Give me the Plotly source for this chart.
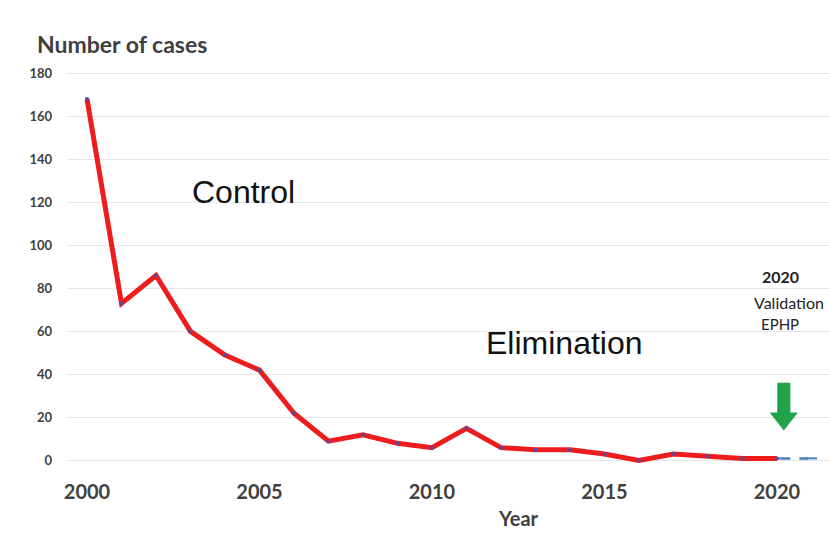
import plotly.graph_objects as go

# Reported cases per year
years = [2000, 2001, 2002, 2003, 2004, 2005, 2006, 2007, 2008, 2009, 2010,
         2011, 2012, 2013, 2014, 2015, 2016, 2017, 2018, 2019, 2020]
cases = [168, 73, 86, 60, 49, 42, 22, 9, 12, 8, 6,
         15, 6, 5, 5, 3, 0, 3, 2, 1, 1]

# Projected trend after validation
proj_years = [2017, 2018, 2019, 2020, 2021]
proj_cases = [3, 2, 1, 1, 1]

x_ticks = [2000, 2005, 2010, 2015, 2020]
y_ticks = [0, 20, 40, 60, 80, 100, 120, 140, 160, 180]

LABEL = "#404040"
FONT = "Lato"

fig = go.Figure()

fig.add_trace(go.Scatter(
    x=proj_years, y=proj_cases, mode="lines+markers",
    line=dict(color="#4a7ebb", width=2.5, dash="dash"),
    marker=dict(symbol="line-ew", size=8, line=dict(color="#4a7ebb", width=2)),
    showlegend=False, hoverinfo="skip",
))

fig.add_trace(go.Scatter(
    x=years, y=cases, mode="lines+markers",
    line=dict(color="#ee1c1c", width=5),
    marker=dict(size=4, color="#5b4a9a"),
    showlegend=False,
))

# Green arrow pointing at the validation year
ax, shaft, head = 2020.2, 0.19, 0.41
top, base, tip = 36.2, 22.3, 14.0
fig.add_shape(
    type="path", xref="x", yref="y",
    path=(f"M {ax - shaft} {top} L {ax + shaft} {top} L {ax + shaft} {base} "
          f"L {ax + head} {base} L {ax} {tip} L {ax - head} {base} "
          f"L {ax - shaft} {base} Z"),
    fillcolor="#22a34a", line=dict(width=0),
)

annotations = [
    dict(text="<b>Number of cases</b>", xref="paper", yref="paper",
         x=-0.042, y=1.067, xanchor="left", yanchor="middle",
         font=dict(family=FONT, size=23, color=LABEL), showarrow=False),
    dict(text="<b>Year</b>", xref="x", yref="paper",
         x=2012.5, y=-0.13, xanchor="center", yanchor="middle",
         font=dict(family=FONT, size=20, color=LABEL), showarrow=False),
    dict(text="Control", xref="x", yref="y", x=2003.0, y=125,
         xanchor="left", yanchor="middle",
         font=dict(family="Liberation Sans", size=32, color="#111111"),
         showarrow=False),
    dict(text="Elimination", xref="x", yref="y", x=2011.5, y=54.5,
         xanchor="left", yanchor="middle",
         font=dict(family="Liberation Sans", size=32, color="#111111"),
         showarrow=False),
    dict(text="<b>2020</b>", xref="x", yref="y", x=2020.1, y=85.5,
         xanchor="center", yanchor="middle",
         font=dict(family=FONT, size=16, color="#222222"), showarrow=False),
    dict(text="Validation", xref="x", yref="y", x=2020.35, y=73.5,
         xanchor="center", yanchor="middle",
         font=dict(family=FONT, size=16, color="#222222"), showarrow=False),
    dict(text="EPHP", xref="x", yref="y", x=2020.1, y=63.5,
         xanchor="center", yanchor="middle",
         font=dict(family=FONT, size=15, color="#222222"), showarrow=False),
]

fig.update_layout(
    width=829, height=544, autosize=False,
    margin=dict(l=67, r=0, t=71, b=77),
    paper_bgcolor="white", plot_bgcolor="white",
    annotations=annotations,
    xaxis=dict(
        range=[1999.42, 2021.51], tickvals=x_ticks,
        ticktext=[str(v) for v in x_ticks],
        tickfont=dict(family=FONT, size=20, color=LABEL, weight="bold"),
        showgrid=False, zeroline=False, showline=False, ticks="",
        ticklabelstandoff=11,
    ),
    yaxis=dict(
        range=[-3, 181], tickvals=y_ticks,
        tickfont=dict(family=FONT, size=13, color=LABEL, weight="bold"),
        showgrid=True, gridcolor="#e6e6e6", gridwidth=1,
        zeroline=False, showline=False, ticks="", ticklabelstandoff=14,
    ),
)

fig.write_html("out.html")
